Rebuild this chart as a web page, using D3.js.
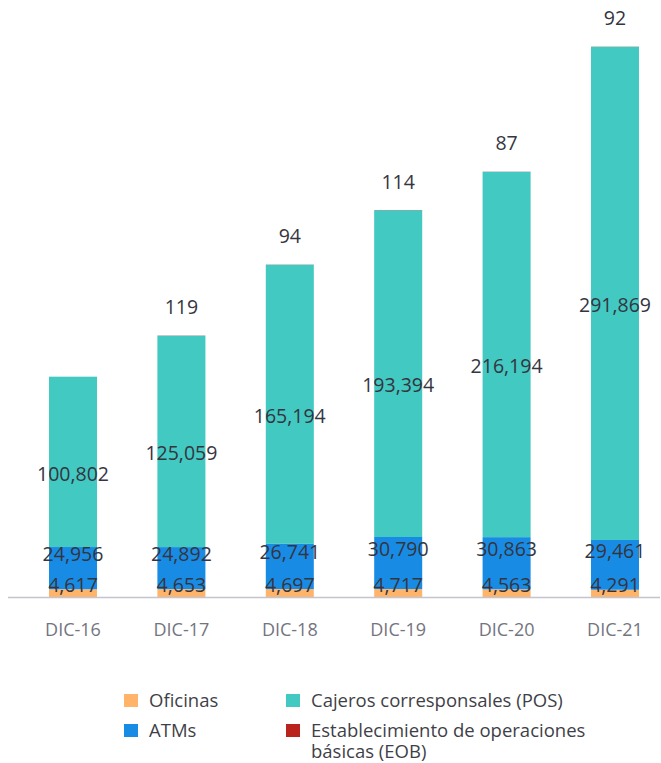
<!DOCTYPE html>
<html>
<head>
<meta charset="utf-8">
<script src="https://cdn.jsdelivr.net/npm/d3@7"></script>
<style>
  html, body { margin: 0; padding: 0; background: #fff; overflow: hidden; }
  svg { display: block; font-family: "Open Sans", "DejaVu Sans", sans-serif; }
</style>
</head>
<body>
<div id="chart"></div>
<script>
// periodos
var periods = ['DIC-16', 'DIC-17', 'DIC-18', 'DIC-19', 'DIC-20', 'DIC-21']
// series (canales)
var oficinas = [4617, 4653, 4697, 4717, 4563, 4291]
var atms = [24956, 24892, 26741, 30790, 30863, 29461]
var pos = [100802, 125059, 165194, 193394, 216194, 291869]
var eob = [0, 119, 94, 114, 87, 92]

var seriesNames = ['Oficinas', 'ATMs', 'Cajeros corresponsales (POS)', 'Establecimiento de operaciones básicas (EOB)']

var width = 661
var height = 763
var margin = { top: 40, bottom: 166, left: 0, right: 0 }
var innerWidth = width - margin.left - margin.right
var innerHeight = height - margin.top - margin.bottom

var colors = ['#FFB46A', '#188CE5', '#42C9C2', '#B9251C']

// armar tabla para stack
var rows = []
for (let i = 0; i < periods.length; i++) {
    rows.push({ date: periods[i], k0: oficinas[i], k1: atms[i], k2: pos[i], k3: eob[i] })
}
var keys = ['k0', 'k1', 'k2', 'k3']
var series = d3.stack().keys(keys)(rows)

var svg = d3.select('#chart').append('svg').attr('width', width).attr('height', height)
var g = svg.append('g').attr('transform', `translate(${margin.left},${margin.top})`)

var xScale = d3.scaleBand().domain(periods).range([49, 639]).paddingInner(0.557).paddingOuter(0)
var maxTotal = d3.max(series[3], d => d[1])
var yScale = d3.scaleLinear().domain([0, maxTotal * 1.012]).range([innerHeight, 0])

// barras
g.selectAll('g.layer').data(series).join('g').attr('class', 'layer')
    .attr('fill', (d, i) => colors[i])
    .selectAll('rect').data(d => d).join('rect')
    .attr('x', d => xScale(d.data.date))
    .attr('width', xScale.bandwidth())
    .attr('y', d => yScale(d[1]))
    .attr('height', d => yScale(d[0]) - yScale(d[1]))

// eje x
var xAxis = g.append('g').attr('transform', `translate(0,${innerHeight})`)
    .call(d3.axisBottom(xScale).tickSize(0).tickPadding(26))
xAxis.select('.domain').attr('stroke', '#C4C4CD').attr('stroke-width', 1.5)
    .attr('d', `M8,0.5H660`)
xAxis.selectAll('text').attr('font-size', 18).attr('fill', '#747480')
    .attr('font-family', '"Open Sans", sans-serif')

// etiquetas de valores
var fmt = d3.format(',')
var labelColor = '#35353F'
var nudge = [-8, -14, 12]
for (let s = 0; s < 3; s++) {
    g.append('g').selectAll('text').data(series[s]).join('text')
        .attr('x', d => xScale(d.data.date) + xScale.bandwidth() / 2)
        .attr('y', d => yScale((d[0] + d[1]) / 2) + nudge[s])
        .attr('dy', '0.35em')
        .attr('text-anchor', 'middle')
        .attr('font-size', 19.5)
        .attr('fill', labelColor)
        .text(d => fmt(d[1] - d[0]))
}
// EOB arriba
g.append('g').selectAll('text').data(series[3].filter(d => d[1] - d[0] > 0)).join('text')
    .attr('x', d => xScale(d.data.date) + xScale.bandwidth() / 2)
    .attr('y', d => yScale(d[1]) - 28)
    .attr('dy', '0.35em')
    .attr('text-anchor', 'middle')
    .attr('font-size', 19.5)
    .attr('fill', labelColor)
    .text(d => fmt(d[1] - d[0]))

// leyenda
var legend = svg.append('g').attr('font-size', 18.5).attr('fill', '#3F3F48')
var legendPos = [[124, 694], [124, 724], [286, 694], [286, 724]]
seriesNames.forEach(function (name, i) {
    var lg = legend.append('g').attr('transform', `translate(${legendPos[i][0]},${legendPos[i][1]})`)
    lg.append('rect').attr('width', 14).attr('height', 13).attr('fill', colors[i])
    var t = lg.append('text').attr('x', 25).attr('y', 13)
    if (i === 3) {
        t.append('tspan').attr('x', 25).text('Establecimiento de operaciones')
        t.append('tspan').attr('x', 25).attr('dy', 21).text('básicas (EOB)')
    } else {
        t.text(name)
    }
})
</script>
</body>
</html>
